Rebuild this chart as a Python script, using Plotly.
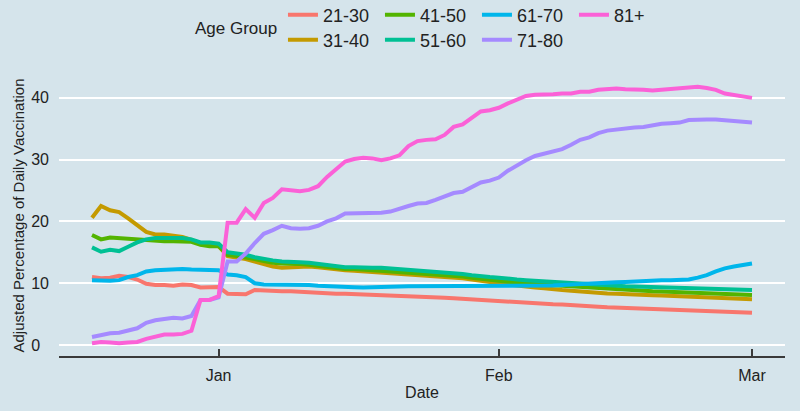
import pandas as pd
import plotly.graph_objects as go

# daily values, 18 Dec 2020 .. 1 Mar 2021
dates = pd.date_range("2020-12-18", "2021-03-01", freq="D")

age_groups = ["21-30", "31-40", "41-50", "51-60", "61-70", "71-80", "81+"]
colors = ["#F8766D", "#C49A00", "#53B400", "#00C094", "#00B6EB", "#A58AFF", "#FB61D7"]

age_21_30 = [11.0, 10.8, 10.9, 11.2, 11.0, 10.6, 9.9, 9.7, 9.7, 9.6, 9.8, 9.7, 9.3, 9.4, 9.4,
             8.3, 8.2, 8.2, 8.9, 8.8, 8.7, 8.7, 8.7, 8.6, 8.5, 8.4, 8.35, 8.3, 8.3, 8.25,
             8.2, 8.2, 8.1, 8.0, 7.95, 7.9, 7.85, 7.8, 7.7, 7.65, 7.55, 7.45, 7.4, 7.3, 7.2,
             7.1, 7.0, 6.95, 6.85, 6.75, 6.7, 6.6, 6.55, 6.5, 6.4, 6.3, 6.2, 6.1, 6.05, 6.0,
             5.95, 5.9, 5.85, 5.8, 5.75, 5.7, 5.65, 5.55, 5.45, 5.35, 5.3, 5.25, 5.2, 5.2]
age_31_40 = [20.6, 22.5, 21.8, 21.5, 20.5, 19.4, 18.3, 17.9, 17.9, 17.7, 17.5, 17.0, 16.3, 16.2, 16.0,
             14.4, 14.2, 13.9, 13.5, 13.1, 12.7, 12.5, 12.6, 12.7, 12.7, 12.6, 12.4, 12.3, 12.1, 12.0,
             11.9, 11.9, 11.85, 11.75, 11.65, 11.5, 11.4, 11.3, 11.25, 11.1, 10.95, 10.8, 10.6, 10.35, 10.2,
             10.0, 9.8, 9.6, 9.4, 9.3, 9.2, 9.0, 8.9, 8.8, 8.65, 8.55, 8.45, 8.35, 8.3, 8.2,
             8.15, 8.1, 8.05, 8.0, 7.95, 7.9, 7.85, 7.8, 7.7, 7.6, 7.55, 7.5, 7.45, 7.4]
age_41_50 = [17.8, 17.1, 17.4, 17.3, 17.1, 17.0, 16.9, 16.9, 16.8, 16.8, 16.8, 16.7, 16.2, 16.0, 16.0,
             14.6, 14.4, 14.2, 13.9, 13.6, 13.3, 13.2, 13.2, 13.1, 13.0, 12.8, 12.6, 12.5, 12.3, 12.3,
             12.2, 12.2, 12.15, 12.05, 11.95, 11.75, 11.65, 11.55, 11.5, 11.3, 11.2, 11.1, 10.9, 10.7, 10.6,
             10.45, 10.25, 10.15, 10.0, 9.9, 9.8, 9.7, 9.6, 9.5, 9.4, 9.25, 9.15, 9.05, 8.95, 8.9,
             8.85, 8.75, 8.7, 8.65, 8.6, 8.55, 8.45, 8.4, 8.3, 8.25, 8.2, 8.15, 8.1, 8.1]
age_51_60 = [15.8, 15.1, 15.4, 15.2, 15.9, 16.6, 17.1, 17.3, 17.3, 17.3, 17.3, 17.1, 16.6, 16.6, 16.4,
             15.0, 14.8, 14.6, 14.2, 13.9, 13.7, 13.5, 13.5, 13.4, 13.3, 13.1, 12.9, 12.8, 12.6, 12.6,
             12.5, 12.5, 12.5, 12.4, 12.3, 12.1, 12.0, 11.9, 11.9, 11.7, 11.6, 11.5, 11.3, 11.1, 11.0,
             10.9, 10.7, 10.6, 10.5, 10.4, 10.3, 10.2, 10.1, 10.0, 9.9, 9.75, 9.65, 9.6, 9.5, 9.5,
             9.45, 9.4, 9.4, 9.35, 9.3, 9.3, 9.2, 9.2, 9.1, 9.0, 8.95, 8.9, 8.9, 8.9]
age_61_70 = [10.5, 10.4, 10.4, 10.5, 11.0, 11.3, 11.9, 12.1, 12.2, 12.2, 12.3, 12.2, 12.2, 12.2, 12.1,
             11.4, 11.3, 11.0, 10.0, 9.8, 9.8, 9.8, 9.8, 9.8, 9.7, 9.6, 9.5, 9.45, 9.4, 9.35,
             9.3, 9.3, 9.35, 9.4, 9.45, 9.5, 9.5, 9.5, 9.55, 9.55, 9.55, 9.55, 9.55, 9.55, 9.55,
             9.6, 9.6, 9.6, 9.55, 9.5, 9.6, 9.65, 9.7, 9.8, 9.9, 9.95, 10.0, 10.1, 10.15, 10.2,
             10.3, 10.35, 10.4, 10.5, 10.5, 10.55, 10.6, 10.9, 11.3, 11.9, 12.4, 12.7, 12.9, 13.2]
age_71_80 = [1.3, 1.6, 1.9, 2.0, 2.3, 2.7, 3.6, 4.0, 4.2, 4.4, 4.3, 4.7, 7.3, 7.3, 7.7,
             13.5, 13.5, 14.8, 16.5, 18.0, 18.6, 19.3, 18.9, 18.8, 18.9, 19.3, 20.0, 20.5, 21.3, 21.3,
             21.3, 21.4, 21.4, 21.6, 22.1, 22.5, 22.9, 23.0, 23.5, 24.0, 24.6, 24.8, 25.6, 26.3, 26.6,
             27.1, 28.2, 29.1, 29.9, 30.6, 31.0, 31.3, 31.7, 32.4, 33.2, 33.6, 34.3, 34.7, 34.9, 35.1,
             35.2, 35.3, 35.6, 35.8, 35.9, 36.0, 36.4, 36.5, 36.5, 36.5, 36.4, 36.2, 36.1, 36.0]
age_81_plus = [0.3, 0.5, 0.4, 0.3, 0.4, 0.5, 1.0, 1.4, 1.7, 1.7, 1.8, 2.3, 7.3, 7.3, 7.9,
               19.8, 19.8, 22.0, 20.6, 23.0, 23.8, 25.2, 25.1, 24.9, 25.1, 25.7, 27.2, 28.4, 29.7, 30.1,
               30.3, 30.2, 29.9, 30.2, 30.7, 32.2, 33.0, 33.2, 33.3, 34.0, 35.3, 35.7, 36.7, 37.8, 38.0,
               38.4, 39.1, 39.7, 40.3, 40.5, 40.5, 40.6, 40.7, 40.7, 41.0, 41.0, 41.3, 41.4, 41.5, 41.4,
               41.4, 41.3, 41.2, 41.3, 41.4, 41.5, 41.6, 41.8, 41.6, 41.3, 40.7, 40.5, 40.3, 40.0]

series = [age_21_30, age_31_40, age_41_50, age_51_60, age_61_70, age_71_80, age_81_plus]

# ggplot lays the legend out column by column in two rows
top_row = ["21-30", "41-50", "61-70", "81+"]

bg = "#d5e4eb"
ink = "#222222"

fig = go.Figure()
for name, vals, col in zip(age_groups, series, colors):
    fig.add_trace(go.Scatter(
        x=dates, y=vals, name=name, mode="lines",
        line=dict(color=col, width=4),
        legend="legend" if name in top_row else "legend2",
    ))

legend_style = dict(
    orientation="h", xanchor="left", yanchor="middle",
    bgcolor="rgba(0,0,0,0)", borderwidth=0,
    font=dict(family="Liberation Sans, Arial", size=18, color=ink),
    entrywidth=52, entrywidthmode="pixels", itemwidth=30,
)

fig.update_layout(
    width=800, height=411,
    margin=dict(l=59, r=15, t=75, b=55, autoexpand=False),
    paper_bgcolor=bg, plot_bgcolor=bg,
    font=dict(family="Liberation Sans, Arial", size=16, color=ink),
    legend=dict(x=0.3085, y=1.2135, **legend_style),
    legend2=dict(x=0.3085, y=1.1246, **legend_style),
    annotations=[dict(
        text="Age Group", xref="paper", yref="paper", x=0.1846, y=1.167,
        xanchor="left", yanchor="middle", showarrow=False,
        font=dict(family="Liberation Sans, Arial", size=17, color=ink),
    )],
)

fig.update_xaxes(
    range=["2020-12-14 08:24", "2021-03-04 15:36"],
    tickvals=["2021-01-01", "2021-02-01", "2021-03-01"],
    ticktext=["Jan", "Feb", "Mar"],
    showgrid=False, zeroline=False, automargin=False,
    showline=True, linecolor="#3a3a3a", linewidth=1.5,
    ticks="inside", ticklen=7, tickwidth=1.5, tickcolor="#3a3a3a",
    ticklabelstandoff=4,
    tickfont=dict(size=16), title=dict(text="Date", font=dict(size=16), standoff=4),
)
fig.update_yaxes(
    range=[-1.78, 43.7],
    tickvals=[0, 10, 20, 30, 40],
    ticktext=["0\u00a0\u00a0", "10", "20", "30", "40"],
    showgrid=True, gridcolor="white", gridwidth=2, zeroline=False,
    showline=False, ticks="", ticklabelstandoff=9, automargin=False,
    tickfont=dict(size=16),
    title=dict(text="Adjusted Percentage of Daily Vaccination", font=dict(size=15), standoff=2),
)

# drop the browser's default body margin so the figure sits at the window corner
fig.write_html("out.html", config={"displayModeBar": False},
               post_script="document.body.style.margin='0';"
                           "document.body.style.background='%s';" % bg)
